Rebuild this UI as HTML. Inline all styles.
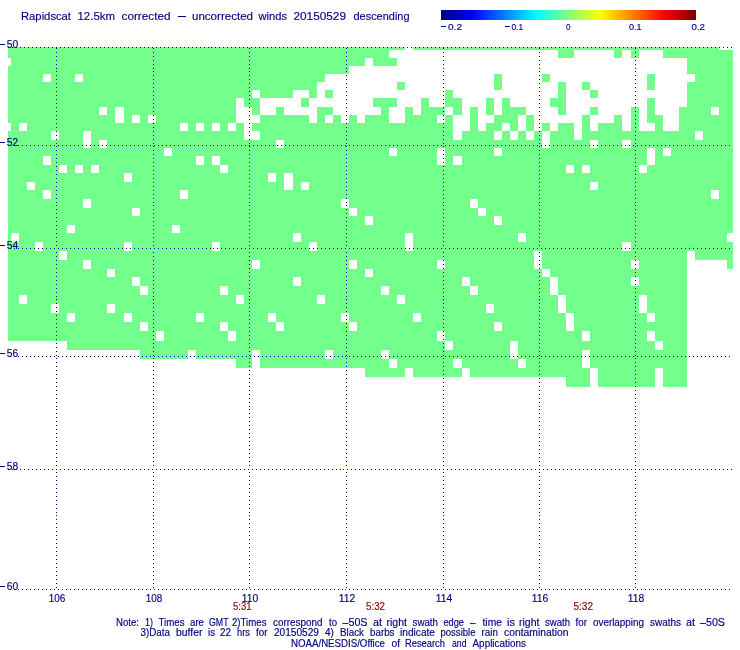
<!DOCTYPE html>
<html><head><meta charset="utf-8"><title>Rapidscat winds</title>
<style>
html,body{margin:0;padding:0;background:#fff;}
body{width:740px;height:650px;overflow:hidden;font-family:"Liberation Sans",sans-serif;}
svg{display:block;will-change:transform;opacity:0.999;}
svg text{font-family:"Liberation Sans",sans-serif;}
</style></head><body>
<svg width="740" height="650" viewBox="0 0 740 650">
<defs><linearGradient id="jet" x1="0" x2="1" y1="0" y2="0">
<stop offset="0" stop-color="#000083"/><stop offset="0.125" stop-color="#0000ff"/><stop offset="0.375" stop-color="#00ffff"/><stop offset="0.5" stop-color="#80ff80"/><stop offset="0.625" stop-color="#ffff00"/><stop offset="0.875" stop-color="#ff0000"/><stop offset="1" stop-color="#800000"/>
</linearGradient></defs>
<rect width="740" height="650" fill="#fff"/>
<rect x="441" y="10" width="255" height="10" fill="url(#jet)" shape-rendering="crispEdges"/>
<g fill="#73ff8c" shape-rendering="crispEdges">
<rect x="8" y="47" width="397" height="3"/>
<rect x="413" y="47" width="306" height="3"/>
<rect x="8" y="50" width="381" height="8"/>
<rect x="558" y="50" width="16" height="8"/>
<rect x="614" y="50" width="8" height="8"/>
<rect x="631" y="50" width="8" height="8"/>
<rect x="663" y="50" width="70" height="8"/>
<rect x="11" y="58" width="354" height="8"/>
<rect x="373" y="58" width="24" height="8"/>
<rect x="687" y="58" width="46" height="8"/>
<rect x="8" y="66" width="341" height="8"/>
<rect x="687" y="66" width="46" height="8"/>
<rect x="8" y="74" width="35" height="8"/>
<rect x="51" y="74" width="24" height="8"/>
<rect x="83" y="74" width="242" height="8"/>
<rect x="494" y="74" width="8" height="8"/>
<rect x="542" y="74" width="8" height="8"/>
<rect x="647" y="74" width="8" height="8"/>
<rect x="695" y="74" width="38" height="8"/>
<rect x="8" y="82" width="309" height="8"/>
<rect x="397" y="82" width="8" height="8"/>
<rect x="494" y="82" width="8" height="8"/>
<rect x="558" y="82" width="8" height="8"/>
<rect x="582" y="82" width="8" height="8"/>
<rect x="647" y="82" width="8" height="8"/>
<rect x="687" y="82" width="46" height="8"/>
<rect x="8" y="90" width="244" height="8"/>
<rect x="260" y="90" width="33" height="8"/>
<rect x="309" y="90" width="8" height="8"/>
<rect x="325" y="90" width="8" height="8"/>
<rect x="445" y="90" width="8" height="8"/>
<rect x="558" y="90" width="8" height="8"/>
<rect x="590" y="90" width="8" height="8"/>
<rect x="687" y="90" width="46" height="8"/>
<rect x="8" y="98" width="228" height="9"/>
<rect x="244" y="98" width="16" height="9"/>
<rect x="301" y="98" width="8" height="9"/>
<rect x="373" y="98" width="24" height="9"/>
<rect x="421" y="98" width="8" height="9"/>
<rect x="445" y="98" width="17" height="9"/>
<rect x="486" y="98" width="8" height="9"/>
<rect x="502" y="98" width="8" height="9"/>
<rect x="550" y="98" width="16" height="9"/>
<rect x="647" y="98" width="8" height="9"/>
<rect x="687" y="98" width="46" height="9"/>
<rect x="8" y="107" width="91" height="8"/>
<rect x="107" y="107" width="8" height="8"/>
<rect x="124" y="107" width="112" height="8"/>
<rect x="252" y="107" width="8" height="8"/>
<rect x="276" y="107" width="8" height="8"/>
<rect x="317" y="107" width="16" height="8"/>
<rect x="381" y="107" width="8" height="8"/>
<rect x="405" y="107" width="8" height="8"/>
<rect x="421" y="107" width="24" height="8"/>
<rect x="453" y="107" width="9" height="8"/>
<rect x="470" y="107" width="8" height="8"/>
<rect x="486" y="107" width="8" height="8"/>
<rect x="502" y="107" width="24" height="8"/>
<rect x="558" y="107" width="8" height="8"/>
<rect x="590" y="107" width="8" height="8"/>
<rect x="631" y="107" width="8" height="8"/>
<rect x="647" y="107" width="8" height="8"/>
<rect x="679" y="107" width="32" height="8"/>
<rect x="719" y="107" width="14" height="8"/>
<rect x="8" y="115" width="107" height="8"/>
<rect x="124" y="115" width="8" height="8"/>
<rect x="140" y="115" width="8" height="8"/>
<rect x="156" y="115" width="80" height="8"/>
<rect x="260" y="115" width="49" height="8"/>
<rect x="317" y="115" width="8" height="8"/>
<rect x="333" y="115" width="8" height="8"/>
<rect x="349" y="115" width="8" height="8"/>
<rect x="365" y="115" width="24" height="8"/>
<rect x="405" y="115" width="32" height="8"/>
<rect x="445" y="115" width="8" height="8"/>
<rect x="470" y="115" width="8" height="8"/>
<rect x="494" y="115" width="24" height="8"/>
<rect x="526" y="115" width="8" height="8"/>
<rect x="582" y="115" width="8" height="8"/>
<rect x="614" y="115" width="8" height="8"/>
<rect x="631" y="115" width="8" height="8"/>
<rect x="647" y="115" width="16" height="8"/>
<rect x="679" y="115" width="54" height="8"/>
<rect x="11" y="123" width="8" height="8"/>
<rect x="27" y="123" width="153" height="8"/>
<rect x="188" y="123" width="8" height="8"/>
<rect x="204" y="123" width="8" height="8"/>
<rect x="220" y="123" width="8" height="8"/>
<rect x="236" y="123" width="8" height="8"/>
<rect x="252" y="123" width="201" height="8"/>
<rect x="470" y="123" width="8" height="8"/>
<rect x="486" y="123" width="16" height="8"/>
<rect x="510" y="123" width="8" height="8"/>
<rect x="526" y="123" width="8" height="8"/>
<rect x="542" y="123" width="8" height="8"/>
<rect x="558" y="123" width="16" height="8"/>
<rect x="582" y="123" width="8" height="8"/>
<rect x="598" y="123" width="24" height="8"/>
<rect x="631" y="123" width="8" height="8"/>
<rect x="655" y="123" width="8" height="8"/>
<rect x="679" y="123" width="54" height="8"/>
<rect x="8" y="131" width="43" height="9"/>
<rect x="59" y="131" width="24" height="9"/>
<rect x="91" y="131" width="153" height="9"/>
<rect x="260" y="131" width="193" height="9"/>
<rect x="462" y="131" width="32" height="9"/>
<rect x="502" y="131" width="8" height="9"/>
<rect x="518" y="131" width="8" height="9"/>
<rect x="534" y="131" width="8" height="9"/>
<rect x="550" y="131" width="24" height="9"/>
<rect x="582" y="131" width="113" height="9"/>
<rect x="703" y="131" width="30" height="9"/>
<rect x="8" y="140" width="75" height="8"/>
<rect x="91" y="140" width="8" height="8"/>
<rect x="107" y="140" width="169" height="8"/>
<rect x="284" y="140" width="258" height="8"/>
<rect x="550" y="140" width="40" height="8"/>
<rect x="598" y="140" width="24" height="8"/>
<rect x="631" y="140" width="102" height="8"/>
<rect x="8" y="148" width="156" height="8"/>
<rect x="172" y="148" width="217" height="8"/>
<rect x="397" y="148" width="40" height="8"/>
<rect x="445" y="148" width="49" height="8"/>
<rect x="502" y="148" width="145" height="8"/>
<rect x="655" y="148" width="8" height="8"/>
<rect x="671" y="148" width="62" height="8"/>
<rect x="8" y="156" width="35" height="9"/>
<rect x="51" y="156" width="145" height="9"/>
<rect x="204" y="156" width="8" height="9"/>
<rect x="220" y="156" width="217" height="9"/>
<rect x="445" y="156" width="8" height="9"/>
<rect x="462" y="156" width="185" height="9"/>
<rect x="655" y="156" width="78" height="9"/>
<rect x="8" y="165" width="51" height="8"/>
<rect x="67" y="165" width="8" height="8"/>
<rect x="83" y="165" width="8" height="8"/>
<rect x="99" y="165" width="121" height="8"/>
<rect x="228" y="165" width="338" height="8"/>
<rect x="574" y="165" width="8" height="8"/>
<rect x="590" y="165" width="49" height="8"/>
<rect x="647" y="165" width="86" height="8"/>
<rect x="8" y="173" width="116" height="9"/>
<rect x="132" y="173" width="136" height="9"/>
<rect x="276" y="173" width="8" height="9"/>
<rect x="293" y="173" width="440" height="9"/>
<rect x="8" y="182" width="19" height="8"/>
<rect x="35" y="182" width="249" height="8"/>
<rect x="293" y="182" width="8" height="8"/>
<rect x="309" y="182" width="281" height="8"/>
<rect x="598" y="182" width="135" height="8"/>
<rect x="8" y="190" width="35" height="9"/>
<rect x="51" y="190" width="129" height="9"/>
<rect x="188" y="190" width="523" height="9"/>
<rect x="719" y="190" width="14" height="9"/>
<rect x="8" y="199" width="75" height="9"/>
<rect x="91" y="199" width="250" height="9"/>
<rect x="349" y="199" width="121" height="9"/>
<rect x="478" y="199" width="255" height="9"/>
<rect x="8" y="208" width="124" height="8"/>
<rect x="140" y="208" width="209" height="8"/>
<rect x="357" y="208" width="121" height="8"/>
<rect x="486" y="208" width="247" height="8"/>
<rect x="8" y="216" width="357" height="9"/>
<rect x="373" y="216" width="121" height="9"/>
<rect x="502" y="216" width="231" height="9"/>
<rect x="8" y="225" width="59" height="8"/>
<rect x="75" y="225" width="97" height="8"/>
<rect x="180" y="225" width="553" height="8"/>
<rect x="8" y="233" width="3" height="9"/>
<rect x="19" y="233" width="274" height="9"/>
<rect x="301" y="233" width="104" height="9"/>
<rect x="413" y="233" width="105" height="9"/>
<rect x="526" y="233" width="201" height="9"/>
<rect x="8" y="242" width="27" height="9"/>
<rect x="43" y="242" width="81" height="9"/>
<rect x="132" y="242" width="80" height="9"/>
<rect x="220" y="242" width="89" height="9"/>
<rect x="317" y="242" width="88" height="9"/>
<rect x="413" y="242" width="209" height="9"/>
<rect x="631" y="242" width="102" height="9"/>
<rect x="8" y="251" width="51" height="9"/>
<rect x="67" y="251" width="467" height="9"/>
<rect x="542" y="251" width="145" height="9"/>
<rect x="695" y="251" width="38" height="9"/>
<rect x="8" y="260" width="75" height="9"/>
<rect x="91" y="260" width="161" height="9"/>
<rect x="260" y="260" width="89" height="9"/>
<rect x="357" y="260" width="80" height="9"/>
<rect x="445" y="260" width="89" height="9"/>
<rect x="542" y="260" width="89" height="9"/>
<rect x="639" y="260" width="48" height="9"/>
<rect x="727" y="260" width="6" height="9"/>
<rect x="8" y="269" width="99" height="8"/>
<rect x="115" y="269" width="250" height="8"/>
<rect x="373" y="269" width="169" height="8"/>
<rect x="550" y="269" width="137" height="8"/>
<rect x="8" y="277" width="124" height="9"/>
<rect x="140" y="277" width="153" height="9"/>
<rect x="301" y="277" width="161" height="9"/>
<rect x="470" y="277" width="80" height="9"/>
<rect x="558" y="277" width="73" height="9"/>
<rect x="639" y="277" width="48" height="9"/>
<rect x="8" y="286" width="132" height="9"/>
<rect x="148" y="286" width="72" height="9"/>
<rect x="228" y="286" width="153" height="9"/>
<rect x="389" y="286" width="81" height="9"/>
<rect x="478" y="286" width="72" height="9"/>
<rect x="558" y="286" width="129" height="9"/>
<rect x="8" y="295" width="11" height="9"/>
<rect x="27" y="295" width="209" height="9"/>
<rect x="244" y="295" width="73" height="9"/>
<rect x="325" y="295" width="72" height="9"/>
<rect x="405" y="295" width="153" height="9"/>
<rect x="566" y="295" width="73" height="9"/>
<rect x="647" y="295" width="40" height="9"/>
<rect x="8" y="304" width="43" height="9"/>
<rect x="59" y="304" width="48" height="9"/>
<rect x="115" y="304" width="371" height="9"/>
<rect x="494" y="304" width="64" height="9"/>
<rect x="566" y="304" width="73" height="9"/>
<rect x="647" y="304" width="40" height="9"/>
<rect x="8" y="313" width="59" height="9"/>
<rect x="75" y="313" width="49" height="9"/>
<rect x="132" y="313" width="64" height="9"/>
<rect x="204" y="313" width="64" height="9"/>
<rect x="276" y="313" width="65" height="9"/>
<rect x="349" y="313" width="64" height="9"/>
<rect x="421" y="313" width="145" height="9"/>
<rect x="574" y="313" width="73" height="9"/>
<rect x="655" y="313" width="32" height="9"/>
<rect x="8" y="322" width="132" height="9"/>
<rect x="148" y="322" width="72" height="9"/>
<rect x="228" y="322" width="48" height="9"/>
<rect x="284" y="322" width="65" height="9"/>
<rect x="357" y="322" width="137" height="9"/>
<rect x="502" y="322" width="64" height="9"/>
<rect x="574" y="322" width="113" height="9"/>
<rect x="8" y="331" width="148" height="10"/>
<rect x="164" y="331" width="64" height="10"/>
<rect x="236" y="331" width="201" height="10"/>
<rect x="445" y="331" width="137" height="10"/>
<rect x="590" y="331" width="57" height="10"/>
<rect x="655" y="331" width="32" height="10"/>
<rect x="67" y="341" width="378" height="9"/>
<rect x="453" y="341" width="57" height="9"/>
<rect x="518" y="341" width="137" height="9"/>
<rect x="663" y="341" width="24" height="9"/>
<rect x="140" y="350" width="48" height="9"/>
<rect x="196" y="350" width="56" height="9"/>
<rect x="260" y="350" width="65" height="9"/>
<rect x="333" y="350" width="48" height="9"/>
<rect x="389" y="350" width="121" height="9"/>
<rect x="518" y="350" width="64" height="9"/>
<rect x="590" y="350" width="97" height="9"/>
<rect x="236" y="359" width="16" height="9"/>
<rect x="260" y="359" width="129" height="9"/>
<rect x="397" y="359" width="56" height="9"/>
<rect x="462" y="359" width="56" height="9"/>
<rect x="526" y="359" width="56" height="9"/>
<rect x="590" y="359" width="97" height="9"/>
<rect x="365" y="368" width="40" height="9"/>
<rect x="413" y="368" width="49" height="9"/>
<rect x="470" y="368" width="120" height="9"/>
<rect x="598" y="368" width="57" height="9"/>
<rect x="663" y="368" width="24" height="9"/>
<rect x="566" y="377" width="24" height="10"/>
<rect x="598" y="377" width="57" height="10"/>
<rect x="663" y="377" width="24" height="10"/>
</g>
<g stroke="#000080" stroke-width="1" shape-rendering="crispEdges" fill="none" transform="translate(0,0.5)">
<path d="M56 48h1M56 52h1M56 56h1M56 60h1M56 64h1M56 68h1M56 71h1M56 75h1M56 79h1M56 83h1M56 87h1M56 91h1M56 95h1M56 99h1M56 103h1M56 107h1M56 111h1M56 115h1M56 119h1M56 123h1M56 127h1M56 131h1M56 135h1M56 139h1M56 143h1M56 146h1M56 150h1M56 154h1M56 158h1M56 162h1M56 166h1M56 170h1M56 174h1M56 178h1M56 182h1M56 186h1M56 190h1M56 194h1M56 198h1M56 202h1M56 205h1M56 209h1M56 213h1M56 217h1M56 221h1M56 225h1M56 229h1M56 233h1M56 237h1M56 241h1M56 245h1M56 252h1M56 256h1M56 260h1M56 264h1M56 268h1M56 272h1M56 276h1M56 280h1M56 284h1M56 288h1M56 292h1M56 296h1M56 299h1M56 303h1M56 307h1M56 311h1M56 315h1M56 319h1M56 323h1M56 327h1M56 331h1M56 335h1M56 339h1M56 343h1M56 347h1M56 351h1M56 355h1M56 358h1M56 362h1M56 366h1M56 370h1M56 374h1M56 378h1M56 382h1M56 386h1M56 390h1M56 394h1M56 398h1M56 402h1M56 406h1M56 409h1M56 413h1M56 417h1M56 421h1M56 425h1M56 429h1M56 433h1M56 437h1M56 441h1M56 445h1M56 449h1M56 453h1M56 457h1M56 461h1M56 465h1M56 472h1M56 476h1M56 480h1M56 484h1M56 488h1M56 492h1M56 496h1M56 500h1M56 504h1M56 508h1M56 512h1M56 515h1M56 519h1M56 523h1M56 527h1M56 531h1M56 535h1M56 539h1M56 543h1M56 547h1M56 551h1M56 555h1M56 559h1M56 563h1M56 567h1M56 571h1M56 575h1M56 579h1M56 583h1M56 587h1M153 48h1M153 52h1M153 56h1M153 60h1M153 64h1M153 68h1M153 71h1M153 75h1M153 79h1M153 83h1M153 87h1M153 91h1M153 95h1M153 99h1M153 103h1M153 107h1M153 111h1M153 115h1M153 119h1M153 123h1M153 127h1M153 131h1M153 135h1M153 139h1M153 143h1M153 146h1M153 150h1M153 154h1M153 158h1M153 162h1M153 166h1M153 170h1M153 174h1M153 178h1M153 182h1M153 186h1M153 190h1M153 194h1M153 198h1M153 202h1M153 205h1M153 209h1M153 213h1M153 217h1M153 221h1M153 225h1M153 229h1M153 233h1M153 237h1M153 241h1M153 245h1M153 252h1M153 256h1M153 260h1M153 264h1M153 268h1M153 272h1M153 276h1M153 280h1M153 284h1M153 288h1M153 292h1M153 296h1M153 299h1M153 303h1M153 307h1M153 311h1M153 315h1M153 319h1M153 323h1M153 327h1M153 331h1M153 335h1M153 339h1M153 343h1M153 347h1M153 351h1M153 355h1M153 358h1M153 362h1M153 366h1M153 370h1M153 374h1M153 378h1M153 382h1M153 386h1M153 390h1M153 394h1M153 398h1M153 402h1M153 406h1M153 409h1M153 413h1M153 417h1M153 421h1M153 425h1M153 429h1M153 433h1M153 437h1M153 441h1M153 445h1M153 449h1M153 453h1M153 457h1M153 461h1M153 465h1M153 472h1M153 476h1M153 480h1M153 484h1M153 488h1M153 492h1M153 496h1M153 500h1M153 504h1M153 508h1M153 512h1M153 515h1M153 519h1M153 523h1M153 527h1M153 531h1M153 535h1M153 539h1M153 543h1M153 547h1M153 551h1M153 555h1M153 559h1M153 563h1M153 567h1M153 571h1M153 575h1M153 579h1M153 583h1M153 587h1M249 48h1M249 52h1M249 56h1M249 60h1M249 64h1M249 68h1M249 71h1M249 75h1M249 79h1M249 83h1M249 87h1M249 91h1M249 95h1M249 99h1M249 103h1M249 107h1M249 111h1M249 115h1M249 119h1M249 123h1M249 127h1M249 131h1M249 135h1M249 139h1M249 143h1M249 146h1M249 150h1M249 154h1M249 158h1M249 162h1M249 166h1M249 170h1M249 174h1M249 178h1M249 182h1M249 186h1M249 190h1M249 194h1M249 198h1M249 202h1M249 205h1M249 209h1M249 213h1M249 217h1M249 221h1M249 225h1M249 229h1M249 233h1M249 237h1M249 241h1M249 245h1M249 252h1M249 256h1M249 260h1M249 264h1M249 268h1M249 272h1M249 276h1M249 280h1M249 284h1M249 288h1M249 292h1M249 296h1M249 299h1M249 303h1M249 307h1M249 311h1M249 315h1M249 319h1M249 323h1M249 327h1M249 331h1M249 335h1M249 339h1M249 343h1M249 347h1M249 351h1M249 355h1M249 358h1M249 362h1M249 366h1M249 370h1M249 374h1M249 378h1M249 382h1M249 386h1M249 390h1M249 394h1M249 398h1M249 402h1M249 406h1M249 409h1M249 413h1M249 417h1M249 421h1M249 425h1M249 429h1M249 433h1M249 437h1M249 441h1M249 445h1M249 449h1M249 453h1M249 457h1M249 461h1M249 465h1M249 472h1M249 476h1M249 480h1M249 484h1M249 488h1M249 492h1M249 496h1M249 500h1M249 504h1M249 508h1M249 512h1M249 515h1M249 519h1M249 523h1M249 527h1M249 531h1M249 535h1M249 539h1M249 543h1M249 547h1M249 551h1M249 555h1M249 559h1M249 563h1M249 567h1M249 571h1M249 575h1M249 579h1M249 583h1M249 587h1M346 48h1M346 52h1M346 56h1M346 60h1M346 64h1M346 68h1M346 71h1M346 75h1M346 79h1M346 83h1M346 87h1M346 91h1M346 95h1M346 99h1M346 103h1M346 107h1M346 111h1M346 115h1M346 119h1M346 123h1M346 127h1M346 131h1M346 135h1M346 139h1M346 143h1M346 146h1M346 150h1M346 154h1M346 158h1M346 162h1M346 166h1M346 170h1M346 174h1M346 178h1M346 182h1M346 186h1M346 190h1M346 194h1M346 198h1M346 202h1M346 205h1M346 209h1M346 213h1M346 217h1M346 221h1M346 225h1M346 229h1M346 233h1M346 237h1M346 241h1M346 245h1M346 252h1M346 256h1M346 260h1M346 264h1M346 268h1M346 272h1M346 276h1M346 280h1M346 284h1M346 288h1M346 292h1M346 296h1M346 299h1M346 303h1M346 307h1M346 311h1M346 315h1M346 319h1M346 323h1M346 327h1M346 331h1M346 335h1M346 339h1M346 343h1M346 347h1M346 351h1M346 355h1M346 358h1M346 362h1M346 366h1M346 370h1M346 374h1M346 378h1M346 382h1M346 386h1M346 390h1M346 394h1M346 398h1M346 402h1M346 406h1M346 409h1M346 413h1M346 417h1M346 421h1M346 425h1M346 429h1M346 433h1M346 437h1M346 441h1M346 445h1M346 449h1M346 453h1M346 457h1M346 461h1M346 465h1M346 472h1M346 476h1M346 480h1M346 484h1M346 488h1M346 492h1M346 496h1M346 500h1M346 504h1M346 508h1M346 512h1M346 515h1M346 519h1M346 523h1M346 527h1M346 531h1M346 535h1M346 539h1M346 543h1M346 547h1M346 551h1M346 555h1M346 559h1M346 563h1M346 567h1M346 571h1M346 575h1M346 579h1M346 583h1M346 587h1M443 48h1M443 52h1M443 56h1M443 60h1M443 64h1M443 68h1M443 71h1M443 75h1M443 79h1M443 83h1M443 87h1M443 91h1M443 95h1M443 99h1M443 103h1M443 107h1M443 111h1M443 115h1M443 119h1M443 123h1M443 127h1M443 131h1M443 135h1M443 139h1M443 143h1M443 146h1M443 150h1M443 154h1M443 158h1M443 162h1M443 166h1M443 170h1M443 174h1M443 178h1M443 182h1M443 186h1M443 190h1M443 194h1M443 198h1M443 202h1M443 205h1M443 209h1M443 213h1M443 217h1M443 221h1M443 225h1M443 229h1M443 233h1M443 237h1M443 241h1M443 245h1M443 252h1M443 256h1M443 260h1M443 264h1M443 268h1M443 272h1M443 276h1M443 280h1M443 284h1M443 288h1M443 292h1M443 296h1M443 299h1M443 303h1M443 307h1M443 311h1M443 315h1M443 319h1M443 323h1M443 327h1M443 331h1M443 335h1M443 339h1M443 343h1M443 347h1M443 351h1M443 355h1M443 358h1M443 362h1M443 366h1M443 370h1M443 374h1M443 378h1M443 382h1M443 386h1M443 390h1M443 394h1M443 398h1M443 402h1M443 406h1M443 409h1M443 413h1M443 417h1M443 421h1M443 425h1M443 429h1M443 433h1M443 437h1M443 441h1M443 445h1M443 449h1M443 453h1M443 457h1M443 461h1M443 465h1M443 472h1M443 476h1M443 480h1M443 484h1M443 488h1M443 492h1M443 496h1M443 500h1M443 504h1M443 508h1M443 512h1M443 515h1M443 519h1M443 523h1M443 527h1M443 531h1M443 535h1M443 539h1M443 543h1M443 547h1M443 551h1M443 555h1M443 559h1M443 563h1M443 567h1M443 571h1M443 575h1M443 579h1M443 583h1M443 587h1M539 48h1M539 52h1M539 56h1M539 60h1M539 64h1M539 68h1M539 71h1M539 75h1M539 79h1M539 83h1M539 87h1M539 91h1M539 95h1M539 99h1M539 103h1M539 107h1M539 111h1M539 115h1M539 119h1M539 123h1M539 127h1M539 131h1M539 135h1M539 139h1M539 143h1M539 146h1M539 150h1M539 154h1M539 158h1M539 162h1M539 166h1M539 170h1M539 174h1M539 178h1M539 182h1M539 186h1M539 190h1M539 194h1M539 198h1M539 202h1M539 205h1M539 209h1M539 213h1M539 217h1M539 221h1M539 225h1M539 229h1M539 233h1M539 237h1M539 241h1M539 245h1M539 252h1M539 256h1M539 260h1M539 264h1M539 268h1M539 272h1M539 276h1M539 280h1M539 284h1M539 288h1M539 292h1M539 296h1M539 299h1M539 303h1M539 307h1M539 311h1M539 315h1M539 319h1M539 323h1M539 327h1M539 331h1M539 335h1M539 339h1M539 343h1M539 347h1M539 351h1M539 355h1M539 358h1M539 362h1M539 366h1M539 370h1M539 374h1M539 378h1M539 382h1M539 386h1M539 390h1M539 394h1M539 398h1M539 402h1M539 406h1M539 409h1M539 413h1M539 417h1M539 421h1M539 425h1M539 429h1M539 433h1M539 437h1M539 441h1M539 445h1M539 449h1M539 453h1M539 457h1M539 461h1M539 465h1M539 472h1M539 476h1M539 480h1M539 484h1M539 488h1M539 492h1M539 496h1M539 500h1M539 504h1M539 508h1M539 512h1M539 515h1M539 519h1M539 523h1M539 527h1M539 531h1M539 535h1M539 539h1M539 543h1M539 547h1M539 551h1M539 555h1M539 559h1M539 563h1M539 567h1M539 571h1M539 575h1M539 579h1M539 583h1M539 587h1M635 48h1M635 52h1M635 56h1M635 60h1M635 64h1M635 68h1M635 71h1M635 75h1M635 79h1M635 83h1M635 87h1M635 91h1M635 95h1M635 99h1M635 103h1M635 107h1M635 111h1M635 115h1M635 119h1M635 123h1M635 127h1M635 131h1M635 135h1M635 139h1M635 143h1M635 146h1M635 150h1M635 154h1M635 158h1M635 162h1M635 166h1M635 170h1M635 174h1M635 178h1M635 182h1M635 186h1M635 190h1M635 194h1M635 198h1M635 202h1M635 205h1M635 209h1M635 213h1M635 217h1M635 221h1M635 225h1M635 229h1M635 233h1M635 237h1M635 241h1M635 245h1M635 252h1M635 256h1M635 260h1M635 264h1M635 268h1M635 272h1M635 276h1M635 280h1M635 284h1M635 288h1M635 292h1M635 296h1M635 299h1M635 303h1M635 307h1M635 311h1M635 315h1M635 319h1M635 323h1M635 327h1M635 331h1M635 335h1M635 339h1M635 343h1M635 347h1M635 351h1M635 355h1M635 358h1M635 362h1M635 366h1M635 370h1M635 374h1M635 378h1M635 382h1M635 386h1M635 390h1M635 394h1M635 398h1M635 402h1M635 406h1M635 409h1M635 413h1M635 417h1M635 421h1M635 425h1M635 429h1M635 433h1M635 437h1M635 441h1M635 445h1M635 449h1M635 453h1M635 457h1M635 461h1M635 465h1M635 472h1M635 476h1M635 480h1M635 484h1M635 488h1M635 492h1M635 496h1M635 500h1M635 504h1M635 508h1M635 512h1M635 515h1M635 519h1M635 523h1M635 527h1M635 531h1M635 535h1M635 539h1M635 543h1M635 547h1M635 551h1M635 555h1M635 559h1M635 563h1M635 567h1M635 571h1M635 575h1M635 579h1M635 583h1M635 587h1M8 47h1M12 47h1M16 47h1M20 47h1M24 47h1M28 47h1M32 47h1M36 47h1M40 47h1M44 47h1M48 47h1M52 47h1M56 47h1M60 47h1M64 47h1M68 47h1M72 47h1M76 47h1M80 47h1M84 47h1M88 47h1M92 47h1M96 47h1M100 47h1M104 47h1M108 47h1M112 47h1M116 47h1M120 47h1M124 47h1M128 47h1M132 47h1M136 47h1M140 47h1M144 47h1M148 47h1M152 47h1M156 47h1M160 47h1M164 47h1M168 47h1M172 47h1M176 47h1M180 47h1M184 47h1M188 47h1M192 47h1M196 47h1M200 47h1M204 47h1M208 47h1M211 47h1M215 47h1M219 47h1M223 47h1M227 47h1M231 47h1M235 47h1M239 47h1M243 47h1M247 47h1M251 47h1M255 47h1M259 47h1M263 47h1M267 47h1M271 47h1M275 47h1M279 47h1M283 47h1M287 47h1M291 47h1M295 47h1M299 47h1M303 47h1M307 47h1M311 47h1M315 47h1M319 47h1M323 47h1M327 47h1M331 47h1M335 47h1M339 47h1M343 47h1M347 47h1M351 47h1M355 47h1M359 47h1M363 47h1M367 47h1M371 47h1M375 47h1M379 47h1M383 47h1M387 47h1M391 47h1M395 47h1M399 47h1M403 47h1M407 47h1M411 47h1M415 47h1M419 47h1M423 47h1M427 47h1M431 47h1M435 47h1M439 47h1M443 47h1M447 47h1M451 47h1M455 47h1M459 47h1M463 47h1M467 47h1M471 47h1M475 47h1M479 47h1M483 47h1M487 47h1M491 47h1M495 47h1M499 47h1M503 47h1M507 47h1M511 47h1M515 47h1M519 47h1M523 47h1M527 47h1M531 47h1M535 47h1M539 47h1M543 47h1M547 47h1M551 47h1M555 47h1M559 47h1M563 47h1M567 47h1M571 47h1M575 47h1M579 47h1M583 47h1M587 47h1M591 47h1M595 47h1M599 47h1M603 47h1M607 47h1M611 47h1M615 47h1M619 47h1M623 47h1M627 47h1M631 47h1M635 47h1M639 47h1M643 47h1M647 47h1M651 47h1M655 47h1M659 47h1M663 47h1M667 47h1M671 47h1M675 47h1M679 47h1M683 47h1M687 47h1M691 47h1M695 47h1M699 47h1M703 47h1M707 47h1M711 47h1M715 47h1M719 47h1M723 47h1M727 47h1M731 47h1M10 145h1M14 145h1M18 145h1M22 145h1M26 145h1M30 145h1M34 145h1M38 145h1M42 145h1M46 145h1M50 145h1M54 145h1M58 145h1M62 145h1M66 145h1M70 145h1M74 145h1M78 145h1M82 145h1M86 145h1M90 145h1M94 145h1M98 145h1M102 145h1M106 145h1M110 145h1M114 145h1M118 145h1M122 145h1M126 145h1M130 145h1M134 145h1M138 145h1M142 145h1M146 145h1M150 145h1M154 145h1M158 145h1M162 145h1M166 145h1M170 145h1M174 145h1M178 145h1M182 145h1M186 145h1M190 145h1M194 145h1M198 145h1M202 145h1M206 145h1M210 145h1M213 145h1M217 145h1M221 145h1M225 145h1M229 145h1M233 145h1M237 145h1M241 145h1M245 145h1M249 145h1M253 145h1M257 145h1M261 145h1M265 145h1M269 145h1M273 145h1M277 145h1M281 145h1M285 145h1M289 145h1M293 145h1M297 145h1M301 145h1M305 145h1M309 145h1M313 145h1M317 145h1M321 145h1M325 145h1M329 145h1M333 145h1M337 145h1M341 145h1M345 145h1M349 145h1M353 145h1M357 145h1M361 145h1M365 145h1M369 145h1M373 145h1M377 145h1M381 145h1M385 145h1M389 145h1M393 145h1M397 145h1M401 145h1M405 145h1M409 145h1M413 145h1M417 145h1M421 145h1M425 145h1M429 145h1M433 145h1M437 145h1M441 145h1M445 145h1M449 145h1M453 145h1M457 145h1M461 145h1M465 145h1M469 145h1M473 145h1M477 145h1M481 145h1M485 145h1M489 145h1M493 145h1M497 145h1M501 145h1M505 145h1M509 145h1M513 145h1M517 145h1M521 145h1M525 145h1M529 145h1M533 145h1M537 145h1M541 145h1M545 145h1M549 145h1M553 145h1M557 145h1M561 145h1M565 145h1M569 145h1M573 145h1M577 145h1M581 145h1M585 145h1M589 145h1M593 145h1M597 145h1M601 145h1M605 145h1M609 145h1M613 145h1M617 145h1M621 145h1M625 145h1M629 145h1M633 145h1M637 145h1M641 145h1M645 145h1M649 145h1M653 145h1M657 145h1M661 145h1M665 145h1M669 145h1M673 145h1M677 145h1M681 145h1M685 145h1M689 145h1M693 145h1M697 145h1M701 145h1M705 145h1M709 145h1M713 145h1M717 145h1M721 145h1M725 145h1M729 145h1M10 248h1M14 248h1M18 248h1M22 248h1M26 248h1M30 248h1M34 248h1M38 248h1M42 248h1M46 248h1M50 248h1M54 248h1M58 248h1M62 248h1M66 248h1M70 248h1M74 248h1M78 248h1M82 248h1M86 248h1M90 248h1M94 248h1M98 248h1M102 248h1M106 248h1M110 248h1M114 248h1M118 248h1M122 248h1M126 248h1M130 248h1M134 248h1M138 248h1M142 248h1M146 248h1M150 248h1M154 248h1M158 248h1M162 248h1M166 248h1M170 248h1M174 248h1M178 248h1M182 248h1M186 248h1M190 248h1M194 248h1M198 248h1M202 248h1M206 248h1M210 248h1M213 248h1M217 248h1M221 248h1M225 248h1M229 248h1M233 248h1M237 248h1M241 248h1M245 248h1M249 248h1M253 248h1M257 248h1M261 248h1M265 248h1M269 248h1M273 248h1M277 248h1M281 248h1M285 248h1M289 248h1M293 248h1M297 248h1M301 248h1M305 248h1M309 248h1M313 248h1M317 248h1M321 248h1M325 248h1M329 248h1M333 248h1M337 248h1M341 248h1M345 248h1M349 248h1M353 248h1M357 248h1M361 248h1M365 248h1M369 248h1M373 248h1M377 248h1M381 248h1M385 248h1M389 248h1M393 248h1M397 248h1M401 248h1M405 248h1M409 248h1M413 248h1M417 248h1M421 248h1M425 248h1M429 248h1M433 248h1M437 248h1M441 248h1M445 248h1M449 248h1M453 248h1M457 248h1M461 248h1M465 248h1M469 248h1M473 248h1M477 248h1M481 248h1M485 248h1M489 248h1M493 248h1M497 248h1M501 248h1M505 248h1M509 248h1M513 248h1M517 248h1M521 248h1M525 248h1M529 248h1M533 248h1M537 248h1M541 248h1M545 248h1M549 248h1M553 248h1M557 248h1M561 248h1M565 248h1M569 248h1M573 248h1M577 248h1M581 248h1M585 248h1M589 248h1M593 248h1M597 248h1M601 248h1M605 248h1M609 248h1M613 248h1M617 248h1M621 248h1M625 248h1M629 248h1M633 248h1M637 248h1M641 248h1M645 248h1M649 248h1M653 248h1M657 248h1M661 248h1M665 248h1M669 248h1M673 248h1M677 248h1M681 248h1M685 248h1M689 248h1M693 248h1M697 248h1M701 248h1M705 248h1M709 248h1M713 248h1M717 248h1M721 248h1M725 248h1M729 248h1M10 356h1M14 356h1M18 356h1M22 356h1M26 356h1M30 356h1M34 356h1M38 356h1M42 356h1M46 356h1M50 356h1M54 356h1M58 356h1M62 356h1M66 356h1M70 356h1M74 356h1M78 356h1M82 356h1M86 356h1M90 356h1M94 356h1M98 356h1M102 356h1M106 356h1M110 356h1M114 356h1M118 356h1M122 356h1M126 356h1M130 356h1M134 356h1M138 356h1M142 356h1M146 356h1M150 356h1M154 356h1M158 356h1M162 356h1M166 356h1M170 356h1M174 356h1M178 356h1M182 356h1M186 356h1M190 356h1M194 356h1M198 356h1M202 356h1M206 356h1M210 356h1M214 356h1M218 356h1M222 356h1M226 356h1M230 356h1M234 356h1M238 356h1M242 356h1M246 356h1M250 356h1M254 356h1M258 356h1M262 356h1M266 356h1M270 356h1M274 356h1M278 356h1M282 356h1M286 356h1M290 356h1M294 356h1M298 356h1M302 356h1M306 356h1M310 356h1M314 356h1M318 356h1M322 356h1M326 356h1M330 356h1M334 356h1M338 356h1M342 356h1M345 356h1M349 356h1M353 356h1M357 356h1M361 356h1M365 356h1M369 356h1M373 356h1M377 356h1M381 356h1M385 356h1M389 356h1M393 356h1M397 356h1M401 356h1M405 356h1M409 356h1M413 356h1M417 356h1M421 356h1M425 356h1M429 356h1M433 356h1M437 356h1M441 356h1M445 356h1M449 356h1M453 356h1M457 356h1M461 356h1M465 356h1M469 356h1M473 356h1M477 356h1M481 356h1M485 356h1M489 356h1M493 356h1M497 356h1M501 356h1M505 356h1M509 356h1M513 356h1M517 356h1M521 356h1M525 356h1M529 356h1M533 356h1M537 356h1M541 356h1M545 356h1M549 356h1M553 356h1M557 356h1M561 356h1M565 356h1M569 356h1M573 356h1M577 356h1M581 356h1M585 356h1M589 356h1M593 356h1M597 356h1M601 356h1M605 356h1M609 356h1M613 356h1M617 356h1M621 356h1M625 356h1M629 356h1M633 356h1M637 356h1M641 356h1M645 356h1M649 356h1M653 356h1M657 356h1M661 356h1M665 356h1M669 356h1M673 356h1M677 356h1M681 356h1M685 356h1M689 356h1M693 356h1M697 356h1M701 356h1M705 356h1M709 356h1M713 356h1M717 356h1M721 356h1M725 356h1M729 356h1M8 469h1M12 469h1M16 469h1M20 469h1M24 469h1M28 469h1M32 469h1M36 469h1M40 469h1M44 469h1M48 469h1M52 469h1M56 469h1M60 469h1M64 469h1M68 469h1M72 469h1M76 469h1M80 469h1M84 469h1M88 469h1M92 469h1M96 469h1M100 469h1M104 469h1M108 469h1M112 469h1M116 469h1M120 469h1M124 469h1M128 469h1M132 469h1M136 469h1M140 469h1M144 469h1M148 469h1M152 469h1M156 469h1M160 469h1M164 469h1M168 469h1M172 469h1M176 469h1M180 469h1M184 469h1M188 469h1M192 469h1M196 469h1M200 469h1M204 469h1M208 469h1M212 469h1M216 469h1M220 469h1M224 469h1M228 469h1M232 469h1M236 469h1M240 469h1M244 469h1M248 469h1M252 469h1M256 469h1M260 469h1M264 469h1M268 469h1M272 469h1M276 469h1M280 469h1M284 469h1M288 469h1M292 469h1M296 469h1M300 469h1M304 469h1M308 469h1M312 469h1M316 469h1M320 469h1M324 469h1M328 469h1M332 469h1M336 469h1M340 469h1M343 469h1M347 469h1M351 469h1M355 469h1M359 469h1M363 469h1M367 469h1M371 469h1M375 469h1M379 469h1M383 469h1M387 469h1M391 469h1M395 469h1M399 469h1M403 469h1M407 469h1M411 469h1M415 469h1M419 469h1M423 469h1M427 469h1M431 469h1M435 469h1M439 469h1M443 469h1M447 469h1M451 469h1M455 469h1M459 469h1M463 469h1M467 469h1M471 469h1M475 469h1M479 469h1M483 469h1M487 469h1M491 469h1M495 469h1M499 469h1M503 469h1M507 469h1M511 469h1M515 469h1M519 469h1M523 469h1M527 469h1M531 469h1M535 469h1M539 469h1M543 469h1M547 469h1M551 469h1M555 469h1M559 469h1M563 469h1M567 469h1M571 469h1M575 469h1M579 469h1M583 469h1M587 469h1M591 469h1M595 469h1M599 469h1M603 469h1M607 469h1M611 469h1M615 469h1M619 469h1M623 469h1M627 469h1M631 469h1M635 469h1M639 469h1M643 469h1M647 469h1M651 469h1M655 469h1M659 469h1M663 469h1M667 469h1M671 469h1M675 469h1M679 469h1M683 469h1M687 469h1M691 469h1M695 469h1M699 469h1M703 469h1M707 469h1M711 469h1M715 469h1M719 469h1M723 469h1M727 469h1M731 469h1M10 589h1M14 589h1M18 589h1M22 589h1M26 589h1M30 589h1M34 589h1M38 589h1M42 589h1M46 589h1M50 589h1M54 589h1M58 589h1M62 589h1M66 589h1M70 589h1M74 589h1M78 589h1M82 589h1M86 589h1M90 589h1M94 589h1M98 589h1M102 589h1M106 589h1M110 589h1M114 589h1M118 589h1M122 589h1M126 589h1M130 589h1M134 589h1M138 589h1M142 589h1M146 589h1M150 589h1M154 589h1M158 589h1M162 589h1M166 589h1M170 589h1M174 589h1M178 589h1M182 589h1M186 589h1M190 589h1M194 589h1M198 589h1M202 589h1M206 589h1M210 589h1M214 589h1M218 589h1M222 589h1M226 589h1M230 589h1M234 589h1M238 589h1M242 589h1M246 589h1M250 589h1M254 589h1M258 589h1M262 589h1M266 589h1M270 589h1M274 589h1M278 589h1M282 589h1M286 589h1M290 589h1M294 589h1M298 589h1M302 589h1M306 589h1M310 589h1M314 589h1M318 589h1M322 589h1M326 589h1M330 589h1M334 589h1M338 589h1M342 589h1M345 589h1M349 589h1M353 589h1M357 589h1M361 589h1M365 589h1M369 589h1M373 589h1M377 589h1M381 589h1M385 589h1M389 589h1M393 589h1M397 589h1M401 589h1M405 589h1M409 589h1M413 589h1M417 589h1M421 589h1M425 589h1M429 589h1M433 589h1M437 589h1M441 589h1M445 589h1M449 589h1M453 589h1M457 589h1M461 589h1M465 589h1M469 589h1M473 589h1M477 589h1M481 589h1M485 589h1M489 589h1M493 589h1M497 589h1M501 589h1M505 589h1M509 589h1M513 589h1M517 589h1M521 589h1M525 589h1M529 589h1M533 589h1M537 589h1M541 589h1M545 589h1M549 589h1M553 589h1M557 589h1M561 589h1M565 589h1M569 589h1M573 589h1M577 589h1M581 589h1M585 589h1M589 589h1M593 589h1M597 589h1M601 589h1M605 589h1M609 589h1M613 589h1M617 589h1M621 589h1M625 589h1M629 589h1M633 589h1M637 589h1M641 589h1M645 589h1M649 589h1M653 589h1M657 589h1M661 589h1M665 589h1M669 589h1M673 589h1M677 589h1M681 589h1M685 589h1M689 589h1M693 589h1M697 589h1M701 589h1M705 589h1M709 589h1M713 589h1M717 589h1M721 589h1M725 589h1M729 589h1"/>
</g>
<g>
<text x="21" y="20" font-size="11.5" text-anchor="start" fill="#000080" stroke="#000080" stroke-width="0.15" textLength="50" lengthAdjust="spacingAndGlyphs">Rapidscat</text>
<text x="77.5" y="20" font-size="11.5" text-anchor="start" fill="#000080" stroke="#000080" stroke-width="0.15" textLength="37.5" lengthAdjust="spacingAndGlyphs">12.5km</text>
<text x="121.5" y="20" font-size="11.5" text-anchor="start" fill="#000080" stroke="#000080" stroke-width="0.15" textLength="49.0" lengthAdjust="spacingAndGlyphs">corrected</text>
<text x="192" y="20" font-size="11.5" text-anchor="start" fill="#000080" stroke="#000080" stroke-width="0.15" textLength="61" lengthAdjust="spacingAndGlyphs">uncorrected</text>
<text x="258.5" y="20" font-size="11.5" text-anchor="start" fill="#000080" stroke="#000080" stroke-width="0.15" textLength="28.5" lengthAdjust="spacingAndGlyphs">winds</text>
<text x="293.5" y="20" font-size="11.5" text-anchor="start" fill="#000080" stroke="#000080" stroke-width="0.15" textLength="52.5" lengthAdjust="spacingAndGlyphs">20150529</text>
<text x="353.5" y="20" font-size="11.5" text-anchor="start" fill="#000080" stroke="#000080" stroke-width="0.15" textLength="56.0" lengthAdjust="spacingAndGlyphs">descending</text>
<rect x="178" y="16" width="8" height="1" fill="#000080" shape-rendering="crispEdges"/>
<rect x="441" y="26" width="5" height="1" fill="#000080" shape-rendering="crispEdges"/>
<text x="448" y="30" font-size="9" text-anchor="start" fill="#000080" stroke="#000080" stroke-width="0.15" textLength="14" lengthAdjust="spacingAndGlyphs">0.2</text>
<rect x="505" y="26" width="5" height="1" fill="#000080" shape-rendering="crispEdges"/>
<text x="511.5" y="30" font-size="9" text-anchor="start" fill="#000080" stroke="#000080" stroke-width="0.15" textLength="11.5" lengthAdjust="spacingAndGlyphs">0.1</text>
<text x="566" y="30" font-size="9" text-anchor="start" fill="#000080" stroke="#000080" stroke-width="0.15" textLength="4.5" lengthAdjust="spacingAndGlyphs">0</text>
<text x="629" y="30" font-size="9" text-anchor="start" fill="#000080" stroke="#000080" stroke-width="0.15" textLength="12.5" lengthAdjust="spacingAndGlyphs">0.1</text>
<text x="691.5" y="30" font-size="9" text-anchor="start" fill="#000080" stroke="#000080" stroke-width="0.15" textLength="13.5" lengthAdjust="spacingAndGlyphs">0.2</text>
<rect x="0" y="44" width="5" height="1" fill="#000080" shape-rendering="crispEdges"/>
<text x="6.8" y="48" font-size="10" text-anchor="start" fill="#000080" stroke="#000080" stroke-width="0.15" textLength="11.4" lengthAdjust="spacingAndGlyphs">50</text>
<rect x="0" y="142" width="5" height="1" fill="#000080" shape-rendering="crispEdges"/>
<text x="6.8" y="146" font-size="10" text-anchor="start" fill="#000080" stroke="#000080" stroke-width="0.15" textLength="11.4" lengthAdjust="spacingAndGlyphs">52</text>
<rect x="0" y="245" width="5" height="1" fill="#000080" shape-rendering="crispEdges"/>
<text x="6.8" y="249" font-size="10" text-anchor="start" fill="#000080" stroke="#000080" stroke-width="0.15" textLength="11.4" lengthAdjust="spacingAndGlyphs">54</text>
<rect x="0" y="353" width="5" height="1" fill="#000080" shape-rendering="crispEdges"/>
<text x="6.8" y="357" font-size="10" text-anchor="start" fill="#000080" stroke="#000080" stroke-width="0.15" textLength="11.4" lengthAdjust="spacingAndGlyphs">56</text>
<rect x="0" y="466" width="5" height="1" fill="#000080" shape-rendering="crispEdges"/>
<text x="6.8" y="470" font-size="10" text-anchor="start" fill="#000080" stroke="#000080" stroke-width="0.15" textLength="11.4" lengthAdjust="spacingAndGlyphs">58</text>
<rect x="0" y="586" width="5" height="1" fill="#000080" shape-rendering="crispEdges"/>
<text x="6.8" y="590" font-size="10" text-anchor="start" fill="#000080" stroke="#000080" stroke-width="0.15" textLength="11.4" lengthAdjust="spacingAndGlyphs">60</text>
<text x="57" y="602" font-size="10" text-anchor="middle" fill="#000080" stroke="#000080" stroke-width="0.15" textLength="16.5" lengthAdjust="spacingAndGlyphs">106</text>
<text x="154" y="602" font-size="10" text-anchor="middle" fill="#000080" stroke="#000080" stroke-width="0.15" textLength="16.5" lengthAdjust="spacingAndGlyphs">108</text>
<text x="250" y="602" font-size="10" text-anchor="middle" fill="#000080" stroke="#000080" stroke-width="0.15" textLength="16.5" lengthAdjust="spacingAndGlyphs">110</text>
<text x="347" y="602" font-size="10" text-anchor="middle" fill="#000080" stroke="#000080" stroke-width="0.15" textLength="16.5" lengthAdjust="spacingAndGlyphs">112</text>
<text x="444" y="602" font-size="10" text-anchor="middle" fill="#000080" stroke="#000080" stroke-width="0.15" textLength="16.5" lengthAdjust="spacingAndGlyphs">114</text>
<text x="540" y="602" font-size="10" text-anchor="middle" fill="#000080" stroke="#000080" stroke-width="0.15" textLength="16.5" lengthAdjust="spacingAndGlyphs">116</text>
<text x="636" y="602" font-size="10" text-anchor="middle" fill="#000080" stroke="#000080" stroke-width="0.15" textLength="16.5" lengthAdjust="spacingAndGlyphs">118</text>
<text x="233" y="610" font-size="10" text-anchor="start" fill="#900000" stroke="#900000" stroke-width="0.15" textLength="18.5" lengthAdjust="spacingAndGlyphs">5:31</text>
<text x="366" y="610" font-size="10" text-anchor="start" fill="#900000" stroke="#900000" stroke-width="0.15" textLength="19" lengthAdjust="spacingAndGlyphs">5:32</text>
<text x="573.5" y="610" font-size="10" text-anchor="start" fill="#900000" stroke="#900000" stroke-width="0.15" textLength="19.5" lengthAdjust="spacingAndGlyphs">5:32</text>
<text x="116" y="626" font-size="10" text-anchor="start" fill="#000080" stroke="#000080" stroke-width="0.15" textLength="23" lengthAdjust="spacingAndGlyphs">Note:</text>
<text x="145" y="626" font-size="10" text-anchor="start" fill="#000080" stroke="#000080" stroke-width="0.15" textLength="8" lengthAdjust="spacingAndGlyphs">1)</text>
<text x="158.5" y="626" font-size="10" text-anchor="start" fill="#000080" stroke="#000080" stroke-width="0.15" textLength="26.0" lengthAdjust="spacingAndGlyphs">Times</text>
<text x="190" y="626" font-size="10" text-anchor="start" fill="#000080" stroke="#000080" stroke-width="0.15" textLength="14" lengthAdjust="spacingAndGlyphs">are</text>
<text x="209" y="626" font-size="10" text-anchor="start" fill="#000080" stroke="#000080" stroke-width="0.15" textLength="19.5" lengthAdjust="spacingAndGlyphs">GMT</text>
<text x="232" y="626" font-size="10" text-anchor="start" fill="#000080" stroke="#000080" stroke-width="0.15" textLength="34.5" lengthAdjust="spacingAndGlyphs">2)Times</text>
<text x="273" y="626" font-size="10" text-anchor="start" fill="#000080" stroke="#000080" stroke-width="0.15" textLength="49.5" lengthAdjust="spacingAndGlyphs">correspond</text>
<text x="329" y="626" font-size="10" text-anchor="start" fill="#000080" stroke="#000080" stroke-width="0.15" textLength="8" lengthAdjust="spacingAndGlyphs">to</text>
<text x="342.5" y="626" font-size="10" text-anchor="start" fill="#000080" stroke="#000080" stroke-width="0.15" textLength="25.0" lengthAdjust="spacingAndGlyphs">&#8211;50S</text>
<text x="373" y="626" font-size="10" text-anchor="start" fill="#000080" stroke="#000080" stroke-width="0.15" textLength="9" lengthAdjust="spacingAndGlyphs">at</text>
<text x="386.5" y="626" font-size="10" text-anchor="start" fill="#000080" stroke="#000080" stroke-width="0.15" textLength="20.5" lengthAdjust="spacingAndGlyphs">right</text>
<text x="412.5" y="626" font-size="10" text-anchor="start" fill="#000080" stroke="#000080" stroke-width="0.15" textLength="25.5" lengthAdjust="spacingAndGlyphs">swath</text>
<text x="443.5" y="626" font-size="10" text-anchor="start" fill="#000080" stroke="#000080" stroke-width="0.15" textLength="20.5" lengthAdjust="spacingAndGlyphs">edge</text>
<text x="470" y="626" font-size="10" text-anchor="start" fill="#000080" stroke="#000080" stroke-width="0.15" textLength="5.5" lengthAdjust="spacingAndGlyphs">&#8211;</text>
<text x="482.5" y="626" font-size="10" text-anchor="start" fill="#000080" stroke="#000080" stroke-width="0.15" textLength="19.5" lengthAdjust="spacingAndGlyphs">time</text>
<text x="507" y="626" font-size="10" text-anchor="start" fill="#000080" stroke="#000080" stroke-width="0.15" textLength="8" lengthAdjust="spacingAndGlyphs">is</text>
<text x="519" y="626" font-size="10" text-anchor="start" fill="#000080" stroke="#000080" stroke-width="0.15" textLength="20.5" lengthAdjust="spacingAndGlyphs">right</text>
<text x="545" y="626" font-size="10" text-anchor="start" fill="#000080" stroke="#000080" stroke-width="0.15" textLength="25" lengthAdjust="spacingAndGlyphs">swath</text>
<text x="575.5" y="626" font-size="10" text-anchor="start" fill="#000080" stroke="#000080" stroke-width="0.15" textLength="11.5" lengthAdjust="spacingAndGlyphs">for</text>
<text x="593" y="626" font-size="10" text-anchor="start" fill="#000080" stroke="#000080" stroke-width="0.15" textLength="51" lengthAdjust="spacingAndGlyphs">overlapping</text>
<text x="650" y="626" font-size="10" text-anchor="start" fill="#000080" stroke="#000080" stroke-width="0.15" textLength="31" lengthAdjust="spacingAndGlyphs">swaths</text>
<text x="686" y="626" font-size="10" text-anchor="start" fill="#000080" stroke="#000080" stroke-width="0.15" textLength="9" lengthAdjust="spacingAndGlyphs">at</text>
<text x="700" y="626" font-size="10" text-anchor="start" fill="#000080" stroke="#000080" stroke-width="0.15" textLength="25" lengthAdjust="spacingAndGlyphs">&#8211;50S</text>
<text x="140.5" y="636" font-size="10" text-anchor="start" fill="#000080" stroke="#000080" stroke-width="0.15" textLength="29.5" lengthAdjust="spacingAndGlyphs">3)Data</text>
<text x="176" y="636" font-size="10" text-anchor="start" fill="#000080" stroke="#000080" stroke-width="0.15" textLength="26.5" lengthAdjust="spacingAndGlyphs">buffer</text>
<text x="208" y="636" font-size="10" text-anchor="start" fill="#000080" stroke="#000080" stroke-width="0.15" textLength="7" lengthAdjust="spacingAndGlyphs">is</text>
<text x="220" y="636" font-size="10" text-anchor="start" fill="#000080" stroke="#000080" stroke-width="0.15" textLength="11" lengthAdjust="spacingAndGlyphs">22</text>
<text x="237" y="636" font-size="10" text-anchor="start" fill="#000080" stroke="#000080" stroke-width="0.15" textLength="13" lengthAdjust="spacingAndGlyphs">hrs</text>
<text x="256" y="636" font-size="10" text-anchor="start" fill="#000080" stroke="#000080" stroke-width="0.15" textLength="11.5" lengthAdjust="spacingAndGlyphs">for</text>
<text x="274" y="636" font-size="10" text-anchor="start" fill="#000080" stroke="#000080" stroke-width="0.15" textLength="45" lengthAdjust="spacingAndGlyphs">20150529</text>
<text x="325" y="636" font-size="10" text-anchor="start" fill="#000080" stroke="#000080" stroke-width="0.15" textLength="9" lengthAdjust="spacingAndGlyphs">4)</text>
<text x="340" y="636" font-size="10" text-anchor="start" fill="#000080" stroke="#000080" stroke-width="0.15" textLength="24" lengthAdjust="spacingAndGlyphs">Black</text>
<text x="370" y="636" font-size="10" text-anchor="start" fill="#000080" stroke="#000080" stroke-width="0.15" textLength="24.5" lengthAdjust="spacingAndGlyphs">barbs</text>
<text x="400" y="636" font-size="10" text-anchor="start" fill="#000080" stroke="#000080" stroke-width="0.15" textLength="35" lengthAdjust="spacingAndGlyphs">indicate</text>
<text x="440.5" y="636" font-size="10" text-anchor="start" fill="#000080" stroke="#000080" stroke-width="0.15" textLength="35.0" lengthAdjust="spacingAndGlyphs">possible</text>
<text x="481.5" y="636" font-size="10" text-anchor="start" fill="#000080" stroke="#000080" stroke-width="0.15" textLength="16.5" lengthAdjust="spacingAndGlyphs">rain</text>
<text x="504" y="636" font-size="10" text-anchor="start" fill="#000080" stroke="#000080" stroke-width="0.15" textLength="64.5" lengthAdjust="spacingAndGlyphs">contamination</text>
<text x="291" y="646.5" font-size="10" text-anchor="start" fill="#000080" stroke="#000080" stroke-width="0.15" textLength="94" lengthAdjust="spacingAndGlyphs">NOAA/NESDIS/Office</text>
<text x="391.5" y="646.5" font-size="10" text-anchor="start" fill="#000080" stroke="#000080" stroke-width="0.15" textLength="8.5" lengthAdjust="spacingAndGlyphs">of</text>
<text x="405" y="646.5" font-size="10" text-anchor="start" fill="#000080" stroke="#000080" stroke-width="0.15" textLength="40" lengthAdjust="spacingAndGlyphs">Research</text>
<text x="452" y="646.5" font-size="10" text-anchor="start" fill="#000080" stroke="#000080" stroke-width="0.15" textLength="14.5" lengthAdjust="spacingAndGlyphs">and</text>
<text x="472.5" y="646.5" font-size="10" text-anchor="start" fill="#000080" stroke="#000080" stroke-width="0.15" textLength="53.5" lengthAdjust="spacingAndGlyphs">Applications</text>
</g>
</svg>
</body></html>
